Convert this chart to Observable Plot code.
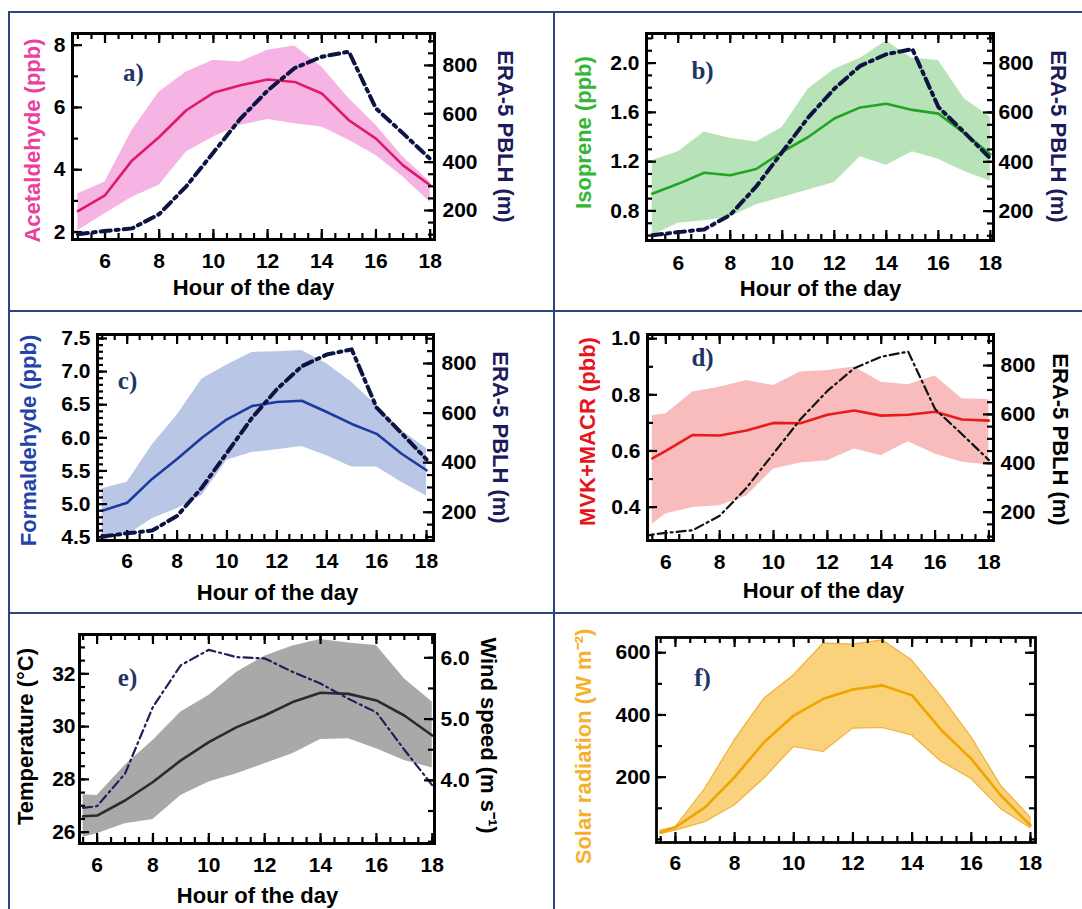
<!DOCTYPE html>
<html><head><meta charset="utf-8">
<script src="https://cdn.jsdelivr.net/npm/d3@7"></script>
<script src="https://cdn.jsdelivr.net/npm/@observablehq/plot@0.6"></script>
<style>
body{margin:0;background:#fff;}
#page{position:relative;width:1082px;height:909px;overflow:hidden;background:#fff;}
#page svg{position:absolute;left:0;top:0;max-width:none;}
.bl{position:absolute;background:#2e4580;}
</style></head><body><div id="page"></div>
<script>
// ---------- data ----------
const hours = [5,6,7,8,9,10,11,12,13,14,15,16,17,18];
const hoursLate = [5.5,6,7,8,9,10,11,12,13,14,15,16,17,18];

const pblh = [102,115,126,185,300,440,580,696,789,836,857,622,519,413];

const acetMean = [2.67,3.18,4.30,5.05,5.91,6.47,6.71,6.90,6.82,6.45,5.59,5.00,4.14,3.50];
const acetHi   = [3.23,3.61,5.27,6.50,7.14,7.52,7.46,7.84,7.97,7.30,6.29,5.43,4.41,3.61];
const acetLo   = [2.05,2.59,3.12,3.50,4.57,5.05,5.43,5.61,5.48,5.37,4.95,4.46,3.77,2.96];

const isoMean = [0.94,1.02,1.11,1.09,1.14,1.28,1.40,1.55,1.64,1.67,1.62,1.59,1.43,1.26];
const isoHi   = [1.21,1.28,1.44,1.39,1.36,1.48,1.79,1.95,2.04,2.18,2.04,2.02,1.71,1.56];
const isoLo   = [0.60,0.70,0.72,0.75,0.85,0.91,0.97,1.03,1.24,1.17,1.28,1.22,1.12,1.04];

const formMean = [4.90,5.02,5.38,5.68,6.00,6.28,6.48,6.54,6.56,6.39,6.21,6.06,5.76,5.51];
const formHi   = [5.23,5.33,5.89,6.34,6.89,7.10,7.29,7.30,7.32,7.12,6.84,6.49,6.11,5.84];
const formLo   = [4.48,4.53,4.78,4.93,5.13,5.66,5.78,5.82,5.87,5.73,5.56,5.56,5.33,5.12];

const mvkMean = [0.574,0.600,0.657,0.655,0.673,0.700,0.699,0.729,0.744,0.726,0.729,0.740,0.712,0.708];
const mvkHi   = [0.726,0.732,0.810,0.827,0.851,0.833,0.881,0.887,0.899,0.845,0.836,0.867,0.786,0.783];
const mvkLo   = [0.339,0.375,0.399,0.405,0.440,0.536,0.557,0.565,0.607,0.583,0.633,0.589,0.560,0.550];

const tempMean = [26.60,26.63,27.20,27.90,28.72,29.41,29.98,30.42,30.93,31.28,31.24,30.99,30.42,29.66];
const tempHi   = [27.42,27.39,28.53,29.47,30.55,31.18,32.06,32.67,33.05,33.30,33.17,33.07,31.81,30.93];
const tempLo   = [25.81,25.94,26.32,26.48,27.39,27.90,28.21,28.59,28.97,29.51,29.54,29.16,28.72,28.43];
const windSpeed = [3.55,3.58,4.11,5.20,5.88,6.13,6.01,5.99,5.77,5.58,5.33,5.11,4.50,3.92];

const solarMean = [23,39,103,200,313,398,452,482,495,463,350,259,141,45];
const solarHi   = [28,39,162,318,452,527,629,626,640,575,458,329,173,71];
const solarLo   = [17,28,55,109,195,297,281,356,358,334,249,195,98,36];

// tick labels
const xTickLabels = [6,8,10,12,14,16,18];
const pblhTickLabels = [200,400,600,800];
const acetTickLabels = [2,4,6,8];
const isoTickLabels = [0.8,1.2,1.6,2.0];
const formTickLabels = [4.5,5.0,5.5,6.0,6.5,7.0,7.5];
const mvkTickLabels = [0.4,0.6,0.8,1.0];
const tempTickLabels = [26,28,30,32];
const windTickLabels = [4.0,5.0,6.0];
const solarTickLabels = [200,400,600];

// ---------- layout ----------
const W = 1082, H = 909;
const FONT = '"Liberation Sans", Arial, Helvetica, sans-serif';
const SERIF = '"Liberation Serif", "Times New Roman", serif';
const page = document.getElementById("page");
const f1 = d3.format(".1f");

// panel borders
[[8,11,1074,2],[8,11,2,898],[553,11,2,898],[8,310,1074,2],[8,612,1074,2]].forEach(([l,t,w,h])=>{
  const d=document.createElement("div");d.className="bl";
  Object.assign(d.style,{left:l+"px",top:t+"px",width:w+"px",height:h+"px"});page.appendChild(d);
});

function layer(fr, xd, yd, marks) {
  const svg = Plot.plot({
    width: W, height: H,
    marginLeft: fr[0], marginRight: W - fr[2], marginTop: fr[1], marginBottom: H - fr[3],
    x: {domain: xd, axis: null},
    y: {domain: yd, axis: null},
    style: {background: "transparent", fontFamily: FONT, fontSize: "21px", fontWeight: "bold", color: "#000", overflow: "visible"},
    marks
  });
  page.appendChild(svg);
}

// inward tick marks along a frame edge, drawn as short rules in data units
function edge(fr, xd, yd, side, values, len) {
  const fw = fr[2]-fr[0], fh = fr[3]-fr[1];
  const dom = (side === "bottom" || side === "top") ? xd : yd;
  const lo = Math.min(...dom) - 1e-9, hi = Math.max(...dom) + 1e-9;
  const v = values.filter(t => t >= lo && t <= hi);
  const o = {stroke: "#000", strokeWidth: 2.2};
  const ky = (yd[1]-yd[0]) * len / fh, kx = (xd[1]-xd[0]) * len / fw;
  if (side === "bottom") return Plot.ruleX(v, {...o, x: d => d, y1: yd[0], y2: yd[0] + ky});
  if (side === "top") return Plot.ruleX(v, {...o, x: d => d, y1: yd[1], y2: yd[1] - ky});
  if (side === "left") return Plot.ruleY(v, {...o, y: d => d, x1: xd[0], x2: xd[0] + kx});
  return Plot.ruleY(v, {...o, y: d => d, x1: xd[1], x2: xd[1] - kx});
}

function txt(fr, s, cx, cy, o = {}) {
  return Plot.text([s], {frameAnchor: "top-left", dx: cx - fr[0], dy: cy - fr[1], text: d => d,
    textAnchor: "middle", lineAnchor: "middle", fontSize: 22, fontWeight: "bold", fontFamily: FONT, ...o});
}

const xMinor = d3.range(5, 18.01, 0.5);

function panel(c) {
  const fr = c.fr, xd = c.xd, yL = c.yL;
  const m = [
    Plot.areaY(c.hrs, {x: c.hrs, y1: c.lo, y2: c.hi, fill: c.band, stroke: c.bandStroke || "none", strokeWidth: 1.2, clip: true}),
    Plot.lineY(c.mean, {x: c.hrs, stroke: c.line, strokeWidth: 2.6, clip: true}),
    edge(fr, xd, yL, "bottom", xMinor, 6), edge(fr, xd, yL, "bottom", xTickLabels, 10),
    edge(fr, xd, yL, "top", xMinor, 6), edge(fr, xd, yL, "top", xTickLabels, 10),
    edge(fr, xd, yL, "left", c.lMinor, 6), edge(fr, xd, yL, "left", c.lTicks, 10),
    Plot.frame({stroke: "#000", strokeWidth: 2.8}),
    Plot.axisX(xTickLabels, {anchor: "bottom", tickSize: 0, tickPadding: c.xPad, tickFormat: d => String(d), label: null, fontSize: 21}),
    Plot.axisY(c.lTicks, {anchor: "left", tickSize: 0, tickPadding: c.lPad, tickFormat: c.lFmt, label: null, fontSize: 21}),
    txt(fr, c.lLabel[0], c.lLabel[2], c.lLabel[3], {fill: c.lLabel[1], rotate: -90}),
    txt(fr, c.letter[0], c.letter[1], c.letter[2], {fill: "#1f3566", fontFamily: SERIF, fontSize: 25})
  ];
  if (c.xLabel) m.push(txt(fr, "Hour of the day", c.xLabel[0], c.xLabel[1]));
  if (!c.r) { m.push(edge(fr, xd, yL, "right", c.lMinor, 6), edge(fr, xd, yL, "right", c.lTicks, 10)); }
  layer(fr, xd, yL, m);
  if (c.r) {
    const r = c.r;
    layer(fr, xd, r.yd, [
      Plot.lineY(r.values, {x: r.hrs, stroke: r.color, strokeWidth: r.width, strokeDasharray: r.dash, clip: true}),
      edge(fr, xd, r.yd, "right", r.minor, 6), edge(fr, xd, r.yd, "right", r.ticks, 10),
      Plot.frame({stroke: "#000", strokeWidth: 2.8}),
      Plot.axisY(r.ticks, {anchor: "right", tickSize: 0, tickPadding: r.pad, tickFormat: r.fmt, label: null, fontSize: 21}),
      txt(fr, r.label[0], r.label[2], r.label[3], {fill: r.label[1], rotate: 90})
    ]);
  }
}

const pblhMinor = d3.range(100, 901, 50);
const NAVY = "#0e1442", LABNAVY = "#1d1b5c";
const pblhBase = {hrs: hours, values: pblh, ticks: pblhTickLabels, minor: pblhMinor, fmt: d => String(d)};

// a)
panel({fr: [72,33,434,239], xd: [4.8,18.16], yL: [1.76,8.375], hrs: hours,
  mean: acetMean, lo: acetLo, hi: acetHi, band: "#f6b4e4", line: "#e0196b",
  lTicks: acetTickLabels, lMinor: [2,3,4,5,6,7,8], lFmt: d => String(d), lPad: 7, xPad: 14,
  lLabel: ["Acetaldehyde (ppb)", "#ea3f9e", 32, 140], letter: ["a)", 133, 72], xLabel: [253, 287],
  r: {...pblhBase, yd: [80,932], color: NAVY, width: 4, dash: "10,5,3,5", pad: 8, label: ["ERA-5 PBLH (m)", LABNAVY, 505, 136]}});

// b)
panel({fr: [646,33,993,240], xd: [4.78,18.12], yL: [0.56,2.24], hrs: hours,
  mean: isoMean, lo: isoLo, hi: isoHi, band: "#b8e3b8", line: "#22a522",
  lTicks: isoTickLabels, lMinor: d3.range(0.6, 2.21, 0.1), lFmt: f1, lPad: 7, xPad: 15,
  lLabel: ["Isoprene (ppb)", "#34b534", 583, 132], letter: ["b)", 702, 70], xLabel: [820, 288],
  r: {...pblhBase, yd: [81,920], color: NAVY, width: 4, dash: "10,5,3,5", pad: 5, label: ["ERA-5 PBLH (m)", LABNAVY, 1058, 136]}});

// c)
panel({fr: [97,334,433,540], xd: [4.81,18.28], yL: [4.45,7.56], hrs: hours,
  mean: formMean, lo: formLo, hi: formHi, band: "#bac6e6", line: "#1c3a9e",
  lTicks: formTickLabels, lMinor: d3.range(4.5, 7.51, 0.1), lFmt: f1, lPad: 7, xPad: 13,
  lLabel: ["Formaldehyde (ppb)", "#2443a8", 28, 440], letter: ["c)", 127, 380], xLabel: [277, 592],
  r: {...pblhBase, yd: [86,917], color: NAVY, width: 4, dash: "10,5,3,5", pad: 8, label: ["ERA-5 PBLH (m)", LABNAVY, 500, 437]}});

// d)
panel({fr: [647,334,993,540], xd: [5.32,18.17], yL: [0.281,1.015], hrs: hoursLate,
  mean: mvkMean, lo: mvkLo, hi: mvkHi, band: "#f9bcbc", line: "#e81b1b",
  lTicks: mvkTickLabels, lMinor: d3.range(0.3, 1.01, 0.1), lFmt: f1, lPad: 7, xPad: 14,
  lLabel: ["MVK+MACR (pbb)", "#e8141c", 587, 431], letter: ["d)", 702, 357], xLabel: [823, 590],
  r: {...pblhBase, yd: [84,927], color: "#111", width: 2.2, dash: "9,4,2,4", pad: 7, label: ["ERA-5 PBLH (m)", "#000", 1060, 439]}});

// e)
panel({fr: [79,634,434,843], xd: [5.37,18.08], yL: [25.57,33.49], hrs: hoursLate,
  mean: tempMean, lo: tempLo, hi: tempHi, band: "#a9a9a9", line: "#2b2b2b",
  lTicks: tempTickLabels, lMinor: d3.range(26, 33.01, 0.5), lFmt: d => String(d), lPad: 4, xPad: 14,
  lLabel: ["Temperature (°C)", "#000", 25, 736], letter: ["e)", 127, 677], xLabel: [257, 895],
  r: {hrs: hoursLate, values: windSpeed, yd: [2.97,6.38], color: "#1a2256", width: 2.2, dash: "9,4,2,4",
      ticks: windTickLabels, minor: d3.range(3.0, 6.01, 0.5), fmt: f1, pad: 6, label: ["Wind speed (m s⁻¹)", "#000", 488, 735]}});

// f)
panel({fr: [656,637,1035,842], xd: [5.36,18.17], yL: [-10,649], hrs: hoursLate,
  mean: solarMean, lo: solarLo, hi: solarHi, band: "#f9d27b", bandStroke: "#f0b23a", line: "#efa400",
  lTicks: solarTickLabels, lMinor: d3.range(0, 601, 100), lFmt: d => String(d), lPad: 6, xPad: 13,
  lLabel: ["Solar radiation (W m⁻²)", "#f6b02c", 583, 746], letter: ["f)", 702, 677], xLabel: null});
</script></body></html>
